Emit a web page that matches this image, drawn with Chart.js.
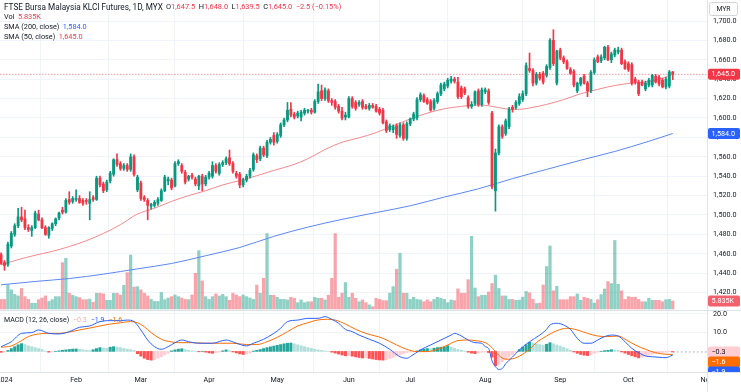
<!DOCTYPE html>
<html><head><meta charset="utf-8">
<script src="https://cdn.jsdelivr.net/npm/chart.js@4.4.1/dist/chart.umd.min.js"></script>
<style>html,body{margin:0;padding:0;background:#fff;overflow:hidden}canvas{display:block}</style>
</head><body>
<canvas id="c" width="741" height="392"></canvas>
<script>
// ---------- DATA (one entry per daily bar, Dec 29 2023 .. Oct 2024) ----------
const open = [
1459,1451,1449,1468,1480,1489,1498,1496,1487,1484,
1487,1501,1495,1487,1479,1486,1491,1497,1505,1503,
1516,1514,1516,1517,1515,1515,1512,1518,1516,1538,
1532,1526,1535,1542,1557,1553,1548,1551,1547,1560,
1526,1533,1518,1515,1509,1510,1512,1515,1525,1535,
1536,1530,1553,1551,1544,1537,1541,1537,1530,1540,
1532,1539,1540,1551,1543,1552,1554,1559,1553,1543,
1542,1531,1536,1540,1547,1561,1558,1569,1561,1575,
1582,1576,1582,1593,1598,1609,1604,1602,1601,1605,
1607,1608,1606,1617,1628,1620,1628,1618,1617,1612,
1607,1601,1601,1620,1616,1614,1617,1612,1610,1613,
1612,1609,1608,1596,1588,1588,1592,1582,1593,1579,
1594,1599,1600,1619,1623,1619,1617,1610,1617,1625,
1630,1633,1638,1640,1637,1631,1630,1621,1612,1615,
1628,1614,1627,1628,1605,1525,1564,1591,1584,1591,
1611,1611,1615,1619,1625,1651,1649,1636,1645,1646,
1644,1652,1680,1636,1670,1662,1658,1650,1648,1628,
1635,1643,1636,1628,1647,1663,1659,1662,1673,1660,
1665,1668,1670,1658,1656,1655,1640,1637,1637,1630,
1634,1634,1643,1642,1639,1632,1633,1647.5];
const high = [
1461,1453,1472,1483,1491,1507,1508,1505,1490,1489,
1504,1505,1497,1489,1488,1492,1497,1503,1508,1517,
1524,1519,1526,1520,1517,1517,1524,1520,1540,1540,
1534,1536,1545,1558,1563,1555,1553,1553,1563,1562,
1541,1535,1520,1517,1512,1515,1518,1527,1541,1539,
1538,1555,1557,1553,1546,1541,1543,1539,1541,1542,
1541,1545,1555,1553,1554,1556,1560,1567,1555,1545,
1544,1538,1542,1548,1564,1563,1571,1571,1577,1580,
1585,1585,1595,1600,1616,1616,1606,1607,1608,1610,
1609,1610,1619,1635,1634,1631,1630,1620,1619,1614,
1611,1606,1622,1622,1618,1618,1619,1614,1615,1615,
1614,1611,1610,1598,1594,1593,1594,1595,1595,1596,
1600,1606,1621,1626,1625,1621,1619,1620,1627,1636,
1637,1641,1643,1642,1642,1633,1632,1623,1617,1628,
1630,1631,1631,1630,1607,1568,1593,1593,1599,1611,
1613,1618,1625,1628,1657,1667,1651,1647,1647,1648,
1655,1682,1691,1670,1672,1664,1660,1652,1650,1637,
1642,1645,1638,1649,1662,1665,1665,1674,1675,1668,
1672,1673,1672,1660,1658,1657,1642,1639,1639,1638,
1641,1645,1645,1644,1641,1642,1649,1648];
const low = [
1449,1443,1447,1466,1478,1487,1493,1485,1483,1478,
1486,1494,1486,1479,1476,1484,1489,1495,1501,1502,
1511,1512,1514,1512,1510,1511,1495,1514,1515,1529,
1523,1524,1533,1540,1550,1546,1546,1545,1545,1540,
1524,1515,1514,1495,1506,1508,1510,1514,1524,1531,
1526,1529,1551,1543,1532,1535,1537,1530,1526,1525,
1530,1537,1538,1543,1541,1550,1552,1551,1543,1538,
1528,1529,1534,1538,1545,1554,1556,1560,1559,1573,
1572,1574,1580,1591,1596,1601,1599,1600,1597,1603,
1605,1604,1605,1615,1618,1618,1616,1613,1609,1605,
1598,1598,1600,1610,1608,1612,1609,1609,1608,1610,
1606,1603,1594,1585,1586,1585,1579,1580,1577,1577,
1592,1597,1598,1617,1616,1614,1607,1608,1615,1623,
1628,1631,1636,1636,1620,1620,1624,1610,1610,1613,
1612,1612,1625,1614,1527,1504,1562,1579,1582,1589,
1606,1609,1613,1617,1623,1647,1633,1634,1639,1635,
1642,1650,1654,1634,1660,1656,1650,1645,1632,1626,
1633,1635,1622,1626,1645,1657,1657,1660,1659,1657,
1663,1666,1655,1650,1648,1634,1635,1623,1633,1628,
1632,1632,1636,1633,1631,1630,1631,1639.5];
const close = [
1450,1448,1470,1481,1489,1498,1495,1487,1485,1487,
1502,1495,1487,1480,1487,1491,1496,1502,1503,1515,
1513,1517,1517,1513,1512,1514,1516,1516,1538,1531,
1525,1534,1543,1557,1552,1548,1551,1547,1560,1542,
1539,1517,1516,1510,1511,1513,1516,1525,1539,1537,
1528,1553,1555,1545,1534,1540,1539,1532,1540,1532,
1539,1543,1551,1545,1552,1554,1558,1553,1545,1540,
1531,1536,1540,1546,1562,1557,1569,1562,1575,1578,
1575,1583,1593,1598,1608,1603,1601,1605,1606,1608,
1607.5,1606,1617,1627,1620,1629,1618,1616,1611,1607,
1600,1603,1620,1612,1610,1616,1611,1610,1613,1611,
1607,1605,1595,1587,1592,1591,1583,1593,1579,1594,
1599,1604,1619,1624,1617,1615,1608,1618,1625,1634,
1635,1639,1640,1638,1622,1622,1626,1612,1614,1627,
1614,1629,1629,1616,1529,1564,1591,1581,1597,1609,
1609,1616,1622,1625,1654,1649,1636,1645,1641,1637,
1653,1680,1656,1669,1662,1658,1651,1646,1634,1636,
1641,1636,1628,1647,1660,1658,1663,1673,1660,1666,
1670,1670,1656,1651,1650,1636,1637,1625,1634,1636,
1639,1644,1637,1635,1632,1640,1647.5,1645];
// volume in thousands of contracts
const volume = [
7,7,17.5,14,10.7,9.5,15,9,7,4.2,
4.2,6.8,8,9.5,5.5,6.8,9,9,33.8,37,
11.5,10,9,8.3,6.8,6.8,7.2,4.9,11.5,11.5,
11,6.3,6.3,11.5,11.5,10.2,17.3,26.5,39.4,16,
16.3,14,11.5,9.5,7,5.5,5.5,12,6.8,8,
9,10.2,9,8,7,6.8,10.2,26,42.6,20.5,
9,7,9,11,9.5,10.7,9,6.3,11.5,10.2,
9,10.2,9,8,7,17.5,11.5,22.4,55,10,
10,8.5,7,7,6.6,8.5,7.8,4.6,6.6,4.6,
5.3,5.3,8.5,7.8,7.8,6.6,10,22.4,55,8.5,
11.5,19.3,8.5,11.5,7.8,5.3,6.6,4.6,3,1.7,
7.8,7,6.1,6.1,11.5,16.3,29,40.6,11.5,11.5,
7,8.5,7,6.6,5.3,6.6,5.3,7,8.5,7.8,
7,4.6,6.6,6.1,14.7,11.5,11.5,21.4,53,15.3,
9,10,10,12.4,18.6,24.7,15,9.5,9.5,7,
7,6.3,6.5,8.6,12.8,11.8,7,4,4.3,17.5,
31,46,13.3,16.5,6.8,6.8,6.8,9,9,11,
6.3,8.6,7.8,7,4.3,6.8,10.5,14.6,20,18.5,
50,18,13.3,7,9,8.6,8.6,7,5.3,5.3,
7.8,6.3,6.3,6.3,5.3,6.8,7,5.835];
// moving averages read at selected bars: [bar index, value]
const sma50 = [[0,1448.5],[5,1454],[10,1458.5],[15,1462.5],[20,1467.5],[25,1473.5],[30,1481],[35,1490],[40,1501],[45,1507],[50,1514],[55,1520],[60,1525],[65,1531],[70,1535.5],[75,1540.5],[80,1546],[85,1551],[90,1558],[95,1567.5],[100,1575],[105,1579.5],[110,1585],[115,1592],[120,1599],[125,1605],[130,1609.5],[135,1612],[140,1613.5],[144,1612],[148,1609.5],[152,1609],[156,1611],[160,1614],[165,1619],[170,1625],[175,1629.5],[180,1633.5],[185,1636],[190,1637.5],[194,1641],[197,1645]];
const sma200 = [[0,1428],[10,1431.5],[20,1434.5],[30,1439],[40,1444.5],[50,1450],[60,1458],[70,1466.5],[80,1478],[90,1487.5],[100,1495.5],[110,1502.5],[120,1509.5],[130,1518.5],[140,1527],[150,1537.5],[160,1547],[170,1556.5],[180,1565.5],[190,1576],[197,1584]];
// MACD (12,26) and signal line read at selected bars
const macdLine = [[0,2.5],[3,5.1],[6,9.5],[9,9.9],[11,11.3],[14,9.5],[17,9.2],[20,10.4],[23,12.7],[26,13.4],[29,15.7],[32,16.2],[35,16.2],[37,16.5],[39,15.7],[41,11.3],[43,6.0],[45,2.5],[47,1.1],[49,2.5],[51,4.6],[53,6.0],[55,5.1],[58,4.3],[62,4.3],[66,6.0],[69,4.3],[72,2.9],[74,4.3],[77,6.4],[80,9.5],[82,12.2],[84,15.7],[87,16.5],[90,17.4],[93,17.4],[95,18.3],[97,16.9],[99,14.8],[101,11.6],[103,10.4],[105,8.6],[108,6.4],[111,4.3],[114,1.1],[117,-2.8],[119,-3.6],[120,-2.8],[123,0.8],[126,3.4],[129,6.0],[132,8.6],[133,9.5],[135,8.1],[137,6.0],[139,4.6],[141,4.3],[142,2.5],[143,1.5],[144,-5],[145,-8],[146,-9.5],[147,-9],[148,-6.5],[150,-3],[152,0.8],[155,5.1],[158,8.6],[160,11.6],[161,13.9],[163,14.8],[165,13.9],[167,11.6],[169,6.9],[171,4.3],[173,4.3],[175,6.0],[177,7.8],[179,8.6],[181,8.1],[183,5.1],[185,1.6],[187,-0.7],[189,-2.4],[191,-2.8],[193,-3.1],[195,-3.3],[197,-1.9]];
const signalLine = [[0,2.2],[3,2.9],[6,5.7],[8,7.8],[11,9.2],[14,9.5],[17,9.5],[20,10.2],[23,11.3],[26,12.3],[29,13.4],[32,14.4],[35,15.1],[38,15.7],[40,15.1],[42,13.0],[44,9.9],[46,7.4],[48,5.7],[50,5.0],[52,4.6],[56,4.6],[60,4.3],[64,4.3],[68,4.3],[72,3.6],[75,3.6],[78,5.1],[81,7.4],[84,10.4],[87,13.4],[90,15.1],[92,16.2],[95,16.9],[98,16.5],[101,14.4],[104,11.6],[107,9.5],[112,6.9],[116,3.4],[119,1.1],[122,-0.1],[125,-0.1],[128,1.1],[131,3.4],[134,5.7],[137,6.0],[139,5.7],[142,4.6],[144,2.0],[145,-0.2],[146,-2.1],[147,-3.5],[148,-4.1],[150,-3.9],[152,-2.5],[155,1.1],[157,4.6],[160,8.1],[163,10.9],[166,12.2],[169,11.3],[172,9.5],[175,8.1],[178,7.8],[181,8.1],[183,6.4],[186,3.4],[189,1.1],[192,-0.7],[195,-1.5],[197,-1.6]];
const macdHist = [
-0.5,-0.3,0.5,1.5,2.5,3.5,4.1,3.6,3.0,2.5,
2.0,1.5,1.0,0.2,-0.4,-0.2,0.1,0.3,0.6,0.8,
1.0,1.2,1.3,1.1,0.9,0.6,0.5,0.9,1.5,2.0,
1.8,1.7,2.2,2.5,2.3,2.0,1.6,1.2,0.9,0.5,
-1.2,-2.5,-3.6,-4.3,-4.6,-4.4,-3.6,-2.8,-1.8,-1.0,
0.3,0.8,1.2,1.4,1.0,0.6,0.3,0.1,-0.2,0.1,
-0.4,-0.8,-1.0,-0.6,-0.3,0.3,0.8,0.4,-0.3,-0.8,
-1.3,-1.6,-1.4,-0.9,0.2,0.6,1.0,1.5,2.0,2.4,
2.8,3.2,3.6,4.0,4.3,4.4,4.0,3.5,3.0,2.5,
2.0,1.6,1.2,0.8,0.5,0.3,0.1,-0.4,-0.9,-1.4,
-1.9,-2.3,-2.2,-2.5,-2.9,-3.2,-3.5,-3.4,-3.7,-4.0,
-4.3,-4.5,-4.6,-4.4,-3.8,-3.1,-2.4,-1.7,-1.1,-0.6,
-0.3,-0.1,0.3,0.8,1.2,1.5,1.4,1.7,2.0,2.2,
2.4,3.0,2.2,1.6,1.0,0.6,0.2,-0.4,-0.9,-1.2,
-0.8,-0.5,-0.3,-0.6,-3.0,-7.6,-6.8,-5.5,-4.2,-3.0,
-1.8,-0.6,1.0,2.2,3.5,4.8,4.4,4.0,3.6,3.3,
3.8,4.6,4.0,3.4,2.8,2.1,1.4,0.6,-0.3,-1.0,
-1.6,-2.0,-2.2,-1.8,-1.0,-0.4,0.1,0.4,0.6,0.9,
0.7,0.5,-0.3,-0.9,-1.6,-2.3,-2.9,-3.4,-3.0,-2.5,
-2.0,-1.5,-1.1,-0.8,-0.6,-0.4,-0.2,-0.3];
// time axis: bar index of each label
const monthTickIdx = [1,22,41,61,81,102,120,142,164,184,207];
const monthTickLabels = ['2024','Feb','Mar','Apr','May','Jun','Jul','Aug','Sep','Oct','Nov'];
const priceTicks = [1420,1440,1460,1480,1500,1520,1540,1560,1580,1600,1620,1640,1660,1680,1700];
const macdTicks = [10,20];

// ---------- STYLE ----------
const FONT = 'Roboto';
Chart.defaults.font.family = FONT;
const UP = '#089981', DN = '#f23645';
const VUP = 'rgba(8,153,129,0.45)', VDN = 'rgba(242,54,69,0.45)';
const TXT = '#131722', GRID = '#f0f3fa', LINE = '#e0e3eb';
const N = close.length, last = N - 1;
const idx = close.map((_, i) => i);
const isUp = idx.map(i => close[i] >= open[i]);
const xMin = -0.32, xMax = 207.05;
const fmt1 = v => v.toLocaleString('en-US', {minimumFractionDigits: 1, maximumFractionDigits: 1});
const sgn = s => s.replace('-', '\u2212');
const histColors = macdHist.map((v, i) => {
  const p = i ? macdHist[i - 1] : 0;
  if (v >= 0) return v >= p ? '#26a69a' : '#b2dfdb';
  return v <= p ? '#ff5252' : '#ffcdd2';
});
const pts = a => a.map(([x, y]) => ({x, y}));

function rrect(ctx, x, y, w, h, r) {
  ctx.beginPath();
  ctx.moveTo(x + r, y); ctx.lineTo(x + w - r, y); ctx.quadraticCurveTo(x + w, y, x + w, y + r);
  ctx.lineTo(x + w, y + h - r); ctx.quadraticCurveTo(x + w, y + h, x + w - r, y + h);
  ctx.lineTo(x + r, y + h); ctx.quadraticCurveTo(x, y + h, x, y + h - r);
  ctx.lineTo(x, y + r); ctx.quadraticCurveTo(x, y, x + r, y); ctx.closePath();
}
function runs(ctx, x, y, items) {
  for (const it of items) {
    if (it.gap) { x += it.gap; continue; }
    if (it.f) { ctx.font = it.f; continue; }
    ctx.fillStyle = it.c; ctx.fillText(it.t, x, y); x += ctx.measureText(it.t).width;
  }
}

const overlay = {
  id: 'overlay',
  afterDraw(chart) {
    const ctx = chart.ctx, ca = chart.chartArea;
    const ys = chart.scales.y, ym = chart.scales.ym, yv = chart.scales.yv;
    ctx.save();
    ctx.fillStyle = '#fff'; ctx.fillRect(ca.right + 1, ca.bottom, 741 - ca.right, 392 - ca.bottom);
    ctx.strokeStyle = LINE; ctx.lineWidth = 1;
    ctx.beginPath();
    ctx.moveTo(0, Math.round(ys.bottom) + 0.5); ctx.lineTo(741, Math.round(ys.bottom) + 0.5);
    ctx.moveTo(Math.round(ca.right) + 0.5, 0); ctx.lineTo(Math.round(ca.right) + 0.5, 392);
    ctx.moveTo(0, Math.round(ca.bottom) + 0.5); ctx.lineTo(741, Math.round(ca.bottom) + 0.5);
    ctx.stroke();

    ctx.textBaseline = 'middle'; ctx.textAlign = 'left';
    // legends
    const chg = close[last] - close[last - 1];
    const pct = chg / close[last - 1] * 100;
    const vf = '7.4px ' + FONT;
    runs(ctx, 4, 7.5, [
      {f: '8.2px ' + FONT},
      {t: 'FTSE Bursa Malaysia KLCI Futures, 1D, MYX', c: TXT}, {gap: 3}, {f: vf},
      {t: 'O', c: TXT}, {t: fmt1(open[last]), c: DN}, {gap: 3.5},
      {t: 'H', c: TXT}, {t: fmt1(high[last]), c: DN}, {gap: 3.5},
      {t: 'L', c: TXT}, {t: fmt1(low[last]), c: DN}, {gap: 3.5},
      {t: 'C', c: TXT}, {t: fmt1(close[last]), c: DN}, {gap: 3.5},
      {t: sgn(chg.toFixed(1)) + ' (' + sgn(pct.toFixed(2)) + '%)', c: DN}]);
    ctx.font = '7.3px ' + FONT;
    runs(ctx, 4, 17.3, [{t: 'Vol', c: TXT}, {gap: 3.5}, {t: volume[last].toFixed(3) + 'K', c: DN}]);
    runs(ctx, 4, 27, [{t: 'SMA (200, close)', c: TXT}, {gap: 3.5}, {t: fmt1(sma200[sma200.length - 1][1]), c: '#2962ff'}]);
    runs(ctx, 4, 36.7, [{t: 'SMA (50, close)', c: TXT}, {gap: 3.5}, {t: fmt1(sma50[sma50.length - 1][1]), c: DN}]);
    const mv = macdLine[macdLine.length - 1][1], sv = signalLine[signalLine.length - 1][1], hv = macdHist[last];
    ctx.font = '7px ' + FONT;
    runs(ctx, 4, 320, [{t: 'MACD (12, 26, close)', c: TXT}, {gap: 4},
      {t: sgn(hv.toFixed(1)), c: '#f7a9b0'}, {gap: 4},
      {t: sgn(mv.toFixed(1)), c: '#2962ff'}, {gap: 4},
      {t: sgn(sv.toFixed(1)), c: '#ff6d00'}]);

    // MYR box
    ctx.font = '6.8px ' + FONT;
    ctx.strokeStyle = '#d1d4dc'; rrect(ctx, 709.5, 2.5, 28, 13, 2); ctx.stroke();
    ctx.fillStyle = TXT; ctx.textAlign = 'center'; ctx.fillText('MYR', 723.5, 9.2);
    ctx.textAlign = 'left';

    // axis value tags
    ctx.font = '7.2px ' + FONT;
    const tag = (yc, text, bg, fg) => {
      ctx.fillStyle = bg; rrect(ctx, 708, yc - 5.5, 32, 11, 2); ctx.fill();
      ctx.fillStyle = fg; ctx.fillText(text, 711.5, yc + 0.3);
    };
    tag(ys.getPixelForValue(sma200[sma200.length - 1][1]), fmt1(sma200[sma200.length - 1][1]), '#2962ff', '#fff');
    tag(ys.getPixelForValue(close[last]), fmt1(close[last]), DN, '#fff');
    tag(yv.getPixelForValue(volume[last]), volume[last].toFixed(3) + 'K', '#f4606b', '#fff');
    ctx.save();
    ctx.beginPath(); ctx.rect(ca.right + 1, ym.top + 1, 741 - ca.right, ym.bottom - ym.top - 1); ctx.clip();
    const y0 = ym.getPixelForValue(hv);
    tag(y0, sgn(hv.toFixed(1)), '#ffcdd2', '#131722');
    tag(y0 + 10, sgn(sv.toFixed(1)), '#ff6d00', '#fff');
    tag(y0 + 20, sgn(mv.toFixed(1)), '#2962ff', '#fff');
    ctx.restore();

    // MACD pane scale labels
    ctx.font = '7.2px ' + FONT; ctx.fillStyle = TXT; ctx.textBaseline = 'middle'; ctx.textAlign = 'left';
    for (const v of macdTicks) {
      const py = Math.max(ym.getPixelForValue(v), ym.top + 4);
      ctx.fillText(fmt1(v), ca.right + 6, py);
    }
    ctx.restore();
  }
};

const tickFont = {family: FONT, size: 7.2};
const fitY = s => { s.width = 34; s.paddingTop = 0; s.paddingBottom = 0; };
new Chart(document.getElementById('c'), {
  type: 'bar',
  data: {
    datasets: [
      {type: 'bar', label: 'body', order: 1, xAxisID: 'x', yAxisID: 'y', grouped: false,
       data: idx.map(i => ({x: i, y: [open[i], close[i]]})),
       backgroundColor: idx.map(i => isUp[i] ? UP : DN), barThickness: 2.2, minBarLength: 1, borderWidth: 0},
      {type: 'bar', label: 'wick', order: 2, xAxisID: 'x', yAxisID: 'y', grouped: false,
       data: idx.map(i => ({x: i, y: [low[i], high[i]]})),
       backgroundColor: idx.map(i => isUp[i] ? UP : DN), barThickness: 1, borderWidth: 0},
      {type: 'line', label: 'last', order: 3, xAxisID: 'x', yAxisID: 'y',
       data: [{x: xMin, y: close[last]}, {x: xMax, y: close[last]}],
       borderColor: 'rgba(242,54,69,0.5)', borderWidth: 1, borderDash: [1.5, 1.5], pointRadius: 0},
      {type: 'line', label: 'sma50', order: 4, xAxisID: 'x', yAxisID: 'y', data: pts(sma50),
       borderColor: '#f5898e', borderWidth: 1, pointRadius: 0, cubicInterpolationMode: 'monotone'},
      {type: 'line', label: 'sma200', order: 5, xAxisID: 'x', yAxisID: 'y', data: pts(sma200),
       borderColor: '#5b87f4', borderWidth: 1, pointRadius: 0, cubicInterpolationMode: 'monotone'},
      {type: 'bar', label: 'volume', order: 10, xAxisID: 'x', yAxisID: 'yv', grouped: false,
       data: idx.map(i => ({x: i, y: volume[i]})),
       backgroundColor: idx.map(i => isUp[i] ? VUP : VDN), barThickness: 2.6, borderWidth: 0},
      {type: 'bar', label: 'hist', order: 9, xAxisID: 'x', yAxisID: 'ym', grouped: false,
       data: idx.map(i => ({x: i, y: macdHist[i]})),
       backgroundColor: histColors, barThickness: 2.4, borderWidth: 0},
      {type: 'line', label: 'histLast', order: 8, xAxisID: 'x', yAxisID: 'ym',
       data: [{x: last, y: macdHist[last]}, {x: xMax, y: macdHist[last]}],
       borderColor: '#b2b5be', borderWidth: 1, borderDash: [2, 2], pointRadius: 0},
      {type: 'line', label: 'macd', order: 6, xAxisID: 'x', yAxisID: 'ym', data: pts(macdLine),
       borderColor: '#2962ff', borderWidth: 1, pointRadius: 0, cubicInterpolationMode: 'monotone'},
      {type: 'line', label: 'signal', order: 7, xAxisID: 'x', yAxisID: 'ym', data: pts(signalLine),
       borderColor: '#ff6d00', borderWidth: 1, pointRadius: 0, cubicInterpolationMode: 'monotone'}
    ]
  },
  options: {
    responsive: false, animation: false, events: [], devicePixelRatio: 1,
    layout: {padding: 0, autoPadding: false},
    plugins: {legend: {display: false}, tooltip: {enabled: false}, title: {display: false}},
    scales: {
      x: {type: 'linear', position: 'bottom', min: xMin, max: xMax, offset: false,
        afterBuildTicks: s => { s.ticks = monthTickIdx.map(v => ({value: v})); },
        ticks: {callback: (v, i) => monthTickLabels[i], font: tickFont, color: TXT, padding: 4,
                maxRotation: 0, autoSkip: false},
        grid: {color: GRID, drawTicks: false}, border: {display: false},
        afterFit: s => { s.height = 20; s.paddingLeft = 0; s.paddingRight = 0; }},
      y: {type: 'linear', position: 'right', stack: 'pane', stackWeight: 310, min: 1402.06, max: 1721.65,
        afterBuildTicks: s => { s.ticks = priceTicks.map(v => ({value: v})); },
        ticks: {callback: v => fmt1(v), font: tickFont, color: TXT, padding: 6, autoSkip: false},
        grid: {color: GRID, drawTicks: false}, border: {display: false},
        afterFit: fitY},
      ym: {type: 'linear', position: 'right', stack: 'pane', stackWeight: 62, min: -10.84, max: 21.8,
        afterBuildTicks: s => { s.ticks = macdTicks.map(v => ({value: v})); },
        ticks: {display: false},
        grid: {color: GRID, drawTicks: false}, border: {display: false},
        afterFit: fitY},
      yv: {type: 'linear', position: 'left', display: false, min: -46, max: 225.5}
    }
  },
  plugins: [overlay]
});
</script>
</body></html>
